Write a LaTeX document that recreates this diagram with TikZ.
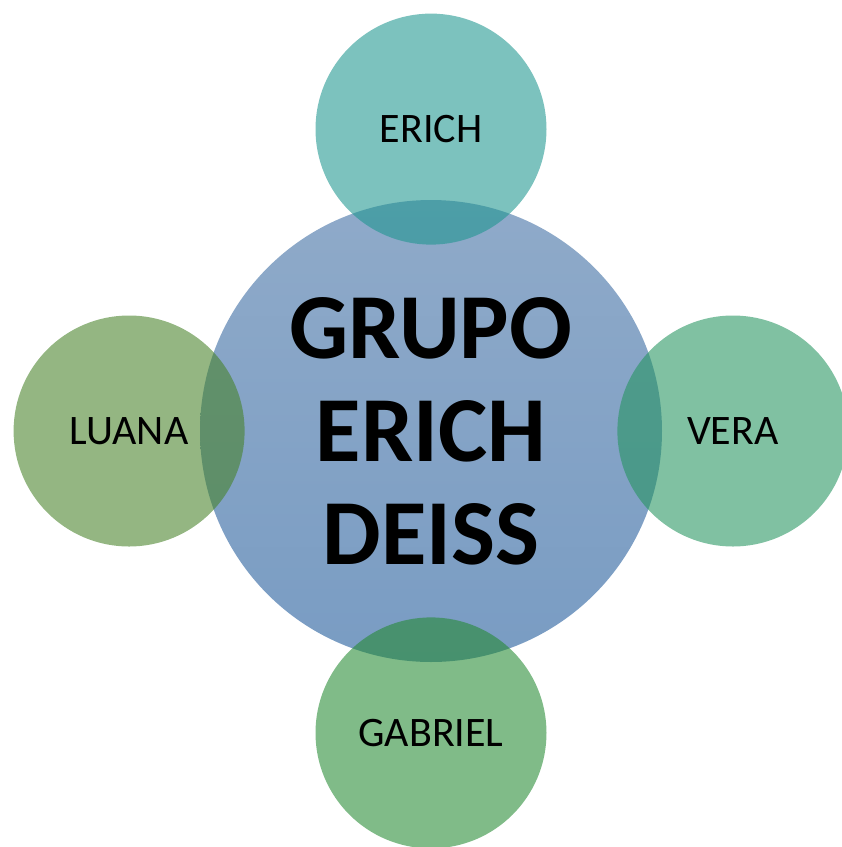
\documentclass[tikz,border=0pt]{standalone}
\usepackage{fontspec}
\setmainfont{Carlito}
\usetikzlibrary{positioning}

\definecolor{hubtop}{RGB}{143,170,201}
\definecolor{hubbot}{RGB}{121,156,195}
\definecolor{erichc}{RGB}{30,150,143}
\definecolor{luanac}{RGB}{70,130,40}
\definecolor{verac}{RGB}{36,148,95}
\definecolor{gabrielc}{RGB}{36,138,50}

\tikzset{
  hub/.style={circle, minimum size=462pt, inner sep=0pt, top color=hubtop, bottom color=hubbot,
    align=center, font=\fontsize{93}{103}\selectfont\bfseries},
  member/.style={circle, minimum size=231pt, inner sep=0pt, fill opacity=0.58, text opacity=1,
    font=\fontsize{42}{48}\selectfont},
}

\begin{document}
\begin{tikzpicture}[x=1pt, y=-1pt]
    \useasboundingbox (0,0) rectangle (842,847);

    % Center
    \node[hub] (hub) at (431,431) {GRUPO\\ERICH\\DEISS};

    % Members around it
    \node[member, fill=erichc, above=-45pt of hub] (erich) {ERICH};
    \node[member, fill=luanac, left=-45pt of hub] (luana) {LUANA};
    \node[member, fill=verac, right=-45pt of hub] (vera) {VERA};
    \node[member, fill=gabrielc, below=-45pt of hub] (gabriel) {GABRIEL};
\end{tikzpicture}
\end{document}
